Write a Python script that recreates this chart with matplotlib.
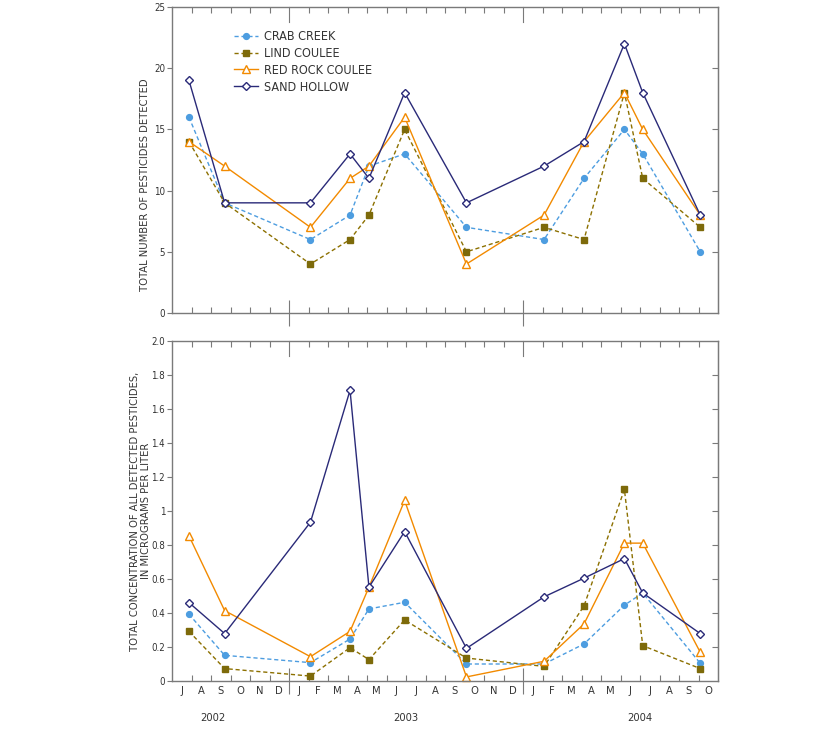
import matplotlib
matplotlib.use("Agg")
import matplotlib.pyplot as plt
import matplotlib.transforms as mtransforms

plt.rcParams['font.family'] = ['DejaVu Sans']
plt.rcParams['font.stretch'] = 'condensed'

# months since 1 July 2002 (fractional) at which samples were taken
sample_month = [0.87, 2.7, 7.1, 9.13, 10.1, 11.93, 15.1, 19.08, 21.13, 23.2, 24.14, 27.09]

site_names = ["CRAB CREEK", "LIND COULEE", "RED ROCK COULEE", "SAND HOLLOW"]

count_crab = [16, 9, 6, 8, 12, 13, 7, 6, 11, 15, 13, 5]
count_lind = [14, 9, 4, 6, 8, 15, 5, 7, 6, 18, 11, 7]
count_redrock = [14, 12, 7, 11, 12, 16, 4, 8, 14, 18, 15, 8]
count_sand = [19, 9, 9, 13, 11, 18, 9, 12, 14, 22, 18, 8]

conc_crab = [0.393, 0.151, 0.108, 0.247, 0.424, 0.463, 0.100, 0.100, 0.218, 0.446, 0.518, 0.104]
conc_lind = [0.292, 0.073, 0.029, 0.196, 0.126, 0.359, 0.135, 0.086, 0.442, 1.127, 0.208, 0.073]
conc_redrock = [0.854, 0.414, 0.143, 0.292, 0.552, 1.062, 0.024, 0.116, 0.336, 0.811, 0.811, 0.169]
conc_sand = [0.461, 0.279, 0.934, 1.710, 0.552, 0.879, 0.192, 0.495, 0.605, 0.720, 0.518, 0.279]

month_labels = ["J", "A", "S", "O", "N", "D",
                "J", "F", "M", "A", "M", "J", "J", "A", "S", "O", "N", "D",
                "J", "F", "M", "A", "M", "J", "J", "A", "S", "O"]
year_labels = ["2002", "2003", "2004"]
year_label_month = [2.1, 12.0, 24.0]
year_boundaries = [6, 18]

count_ticks = [0, 5, 10, 15, 20, 25]
conc_ticks = [0, 0.2, 0.4, 0.6, 0.8, 1.0, 1.2, 1.4, 1.6, 1.8, 2.0]
conc_tick_labels = ["0", "0.2", "0.4", "0.6", "0.8", "1", "1.2", "1.4", "1.6", "1.8", "2.0"]

styles = [
    dict(color="#4d9de0", ls=(0, (3, 2)), marker="o", mfc="#4d9de0", mec="#4d9de0", ms=4.2),
    dict(color="#8c7000", ls=(0, (3, 2)), marker="s", mfc="#7d6a0a", mec="#7d6a0a", ms=4.0),
    dict(color="#f28a00", ls="-", marker="^", mfc="white", mec="#f28a00", ms=5.5),
    dict(color="#2a2a78", ls="-", marker="D", mfc="white", mec="#2a2a78", ms=4.2),
]

axis_col = "#7a7a7a"
text_col = "#333333"

fig = plt.figure(figsize=(8.4, 7.48), dpi=100)
ax1 = fig.add_axes([172/840, 1-313/748, 546/840, 306/748])
ax2 = fig.add_axes([172/840, 1-681/748, 546/840, 340/748])

n_months = len(month_labels)

def style_axes(ax, ymax, yticks, yticklabels, hpx):
    ax.set_xlim(0, n_months)
    ax.set_ylim(0, ymax)
    for s in ax.spines.values():
        s.set_color(axis_col)
        s.set_linewidth(1.0)
    ax.set_xticks([m for m in range(1, n_months) if m not in year_boundaries], minor=True)
    ax.set_xticks(year_boundaries)
    ax.set_xticklabels([])
    ax.tick_params(axis='x', which='minor', direction='in', length=4.5, width=0.8,
                   color=axis_col, top=True, bottom=True)
    ax.tick_params(axis='x', which='major', direction='inout', length=19, width=0.8,
                   color=axis_col, top=False, bottom=True)
    ax.set_yticks(yticks)
    ax.set_yticklabels(yticklabels)
    ax.tick_params(axis='y', which='major', direction='out', length=3.5, width=0.8,
                   color=axis_col, labelsize=7, labelcolor=text_col, pad=1.5, left=True)
    axr = ax.secondary_yaxis('right')
    axr.set_yticks(yticks[1:-1])
    axr.set_yticklabels([])
    axr.tick_params(direction='in', length=4.5, width=0.8, color=axis_col)
    axr.spines['right'].set_color(axis_col)
    trans = mtransforms.blended_transform_factory(ax.transData, ax.transAxes)
    for yb in year_boundaries:
        ax.plot([yb, yb], [1.0, 1.0 - 15 / hpx], transform=trans,
                color=axis_col, lw=0.8, clip_on=False)

style_axes(ax1, 25, count_ticks, [str(t) for t in count_ticks], 306)
style_axes(ax2, 2.0, conc_ticks, conc_tick_labels, 340)

handles = []
for series, st, name in zip([count_crab, count_lind, count_redrock, count_sand], styles, site_names):
    h, = ax1.plot(sample_month, series, lw=1.0, label=name, clip_on=False, **st)
    handles.append(h)
for series, st in zip([conc_crab, conc_lind, conc_redrock, conc_sand], styles):
    ax2.plot(sample_month, series, lw=1.0, clip_on=False, **st)

leg = ax1.legend(handles=handles, loc='upper left', bbox_to_anchor=(0.105, 0.94),
                 frameon=False, fontsize=9, handlelength=1.9, handletextpad=0.45,
                 labelspacing=0.3, borderaxespad=0, markerscale=1.0)
for t in leg.get_texts():
    t.set_color(text_col)

ax1.set_ylabel("TOTAL NUMBER OF PESTICIDES DETECTED", fontsize=8, color=text_col)
ax1.yaxis.set_label_coords(-0.040, 0.42)
ax2.set_ylabel("TOTAL CONCENTRATION OF ALL DETECTED PESTICIDES,\nIN MICROGRAMS PER LITER",
               fontsize=8, color=text_col, linespacing=1.2)
ax2.yaxis.set_label_coords(-0.038, 0.5)

trans2 = mtransforms.blended_transform_factory(ax2.transData, fig.transFigure)
for i, lab in enumerate(month_labels):
    ax2.text(i + 0.5, 1 - 691/748, lab, transform=trans2, ha='center', va='center',
             fontsize=8, color=text_col)
for xm, lab in zip(year_label_month, year_labels):
    ax2.text(xm, 1 - 718/748, lab, transform=trans2, ha='center', va='center',
             fontsize=8, color=text_col)

fig.savefig("out.png", dpi=100)
